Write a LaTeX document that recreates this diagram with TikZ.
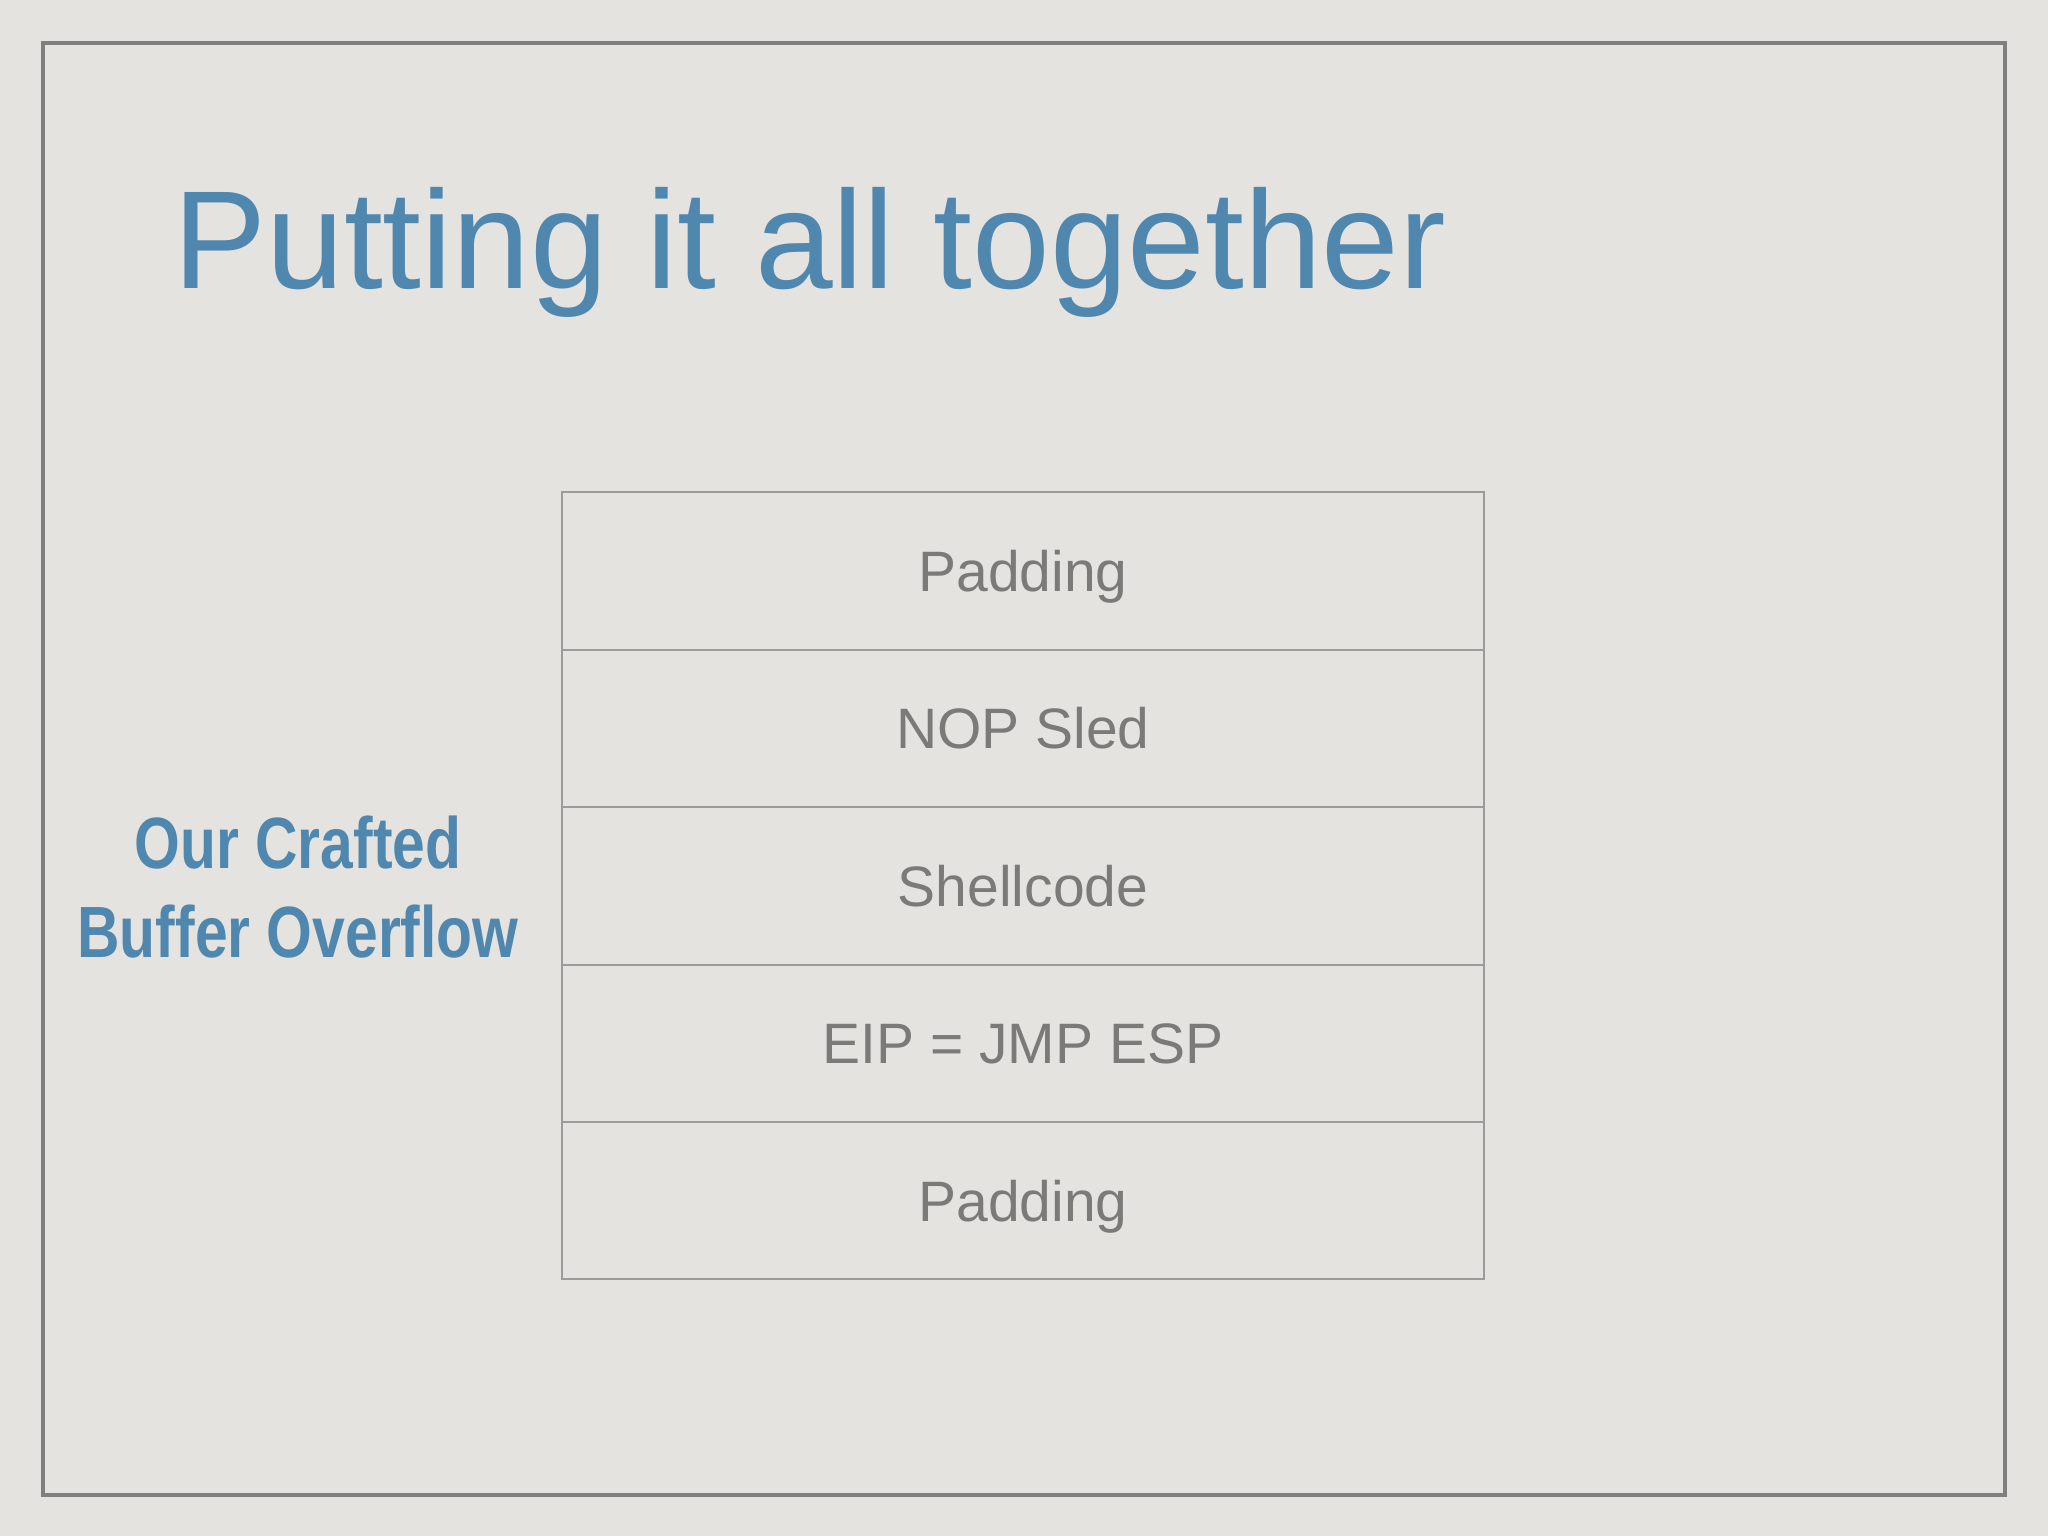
\documentclass[tikz,border=0pt]{standalone}
\usepackage{fontspec}
\setmainfont{Liberation Sans}
\usetikzlibrary{positioning}
\definecolor{bgc}{HTML}{E4E3DF}
\definecolor{framec}{HTML}{7F7F7D}
\definecolor{cellline}{HTML}{9B9B99}
\definecolor{titleblue}{HTML}{4F87AE}
\definecolor{celltext}{HTML}{7A7A78}
\tikzset{
  cellbox/.style={draw=cellline, line width=1pt, minimum width=461pt, minimum height=78.7pt,
    inner sep=0pt, outer sep=0pt, text=celltext, font=\fontsize{28.5}{34}\selectfont,
    text height=20.4pt, text depth=0pt},
  sidelabel/.style={anchor=base, inner sep=0pt, text=titleblue,
    font=\fontsize{36.3}{44}\selectfont\bfseries},
  titletext/.style={anchor=base west, inner sep=0pt, text=titleblue,
    font=\fontsize{69.8}{84}\selectfont}
}
\begin{document}
\begin{tikzpicture}[x=0.5pt,y=-0.5pt]
\useasboundingbox (0,0) rectangle (2048,1536);
\fill[bgc] (0,0) rectangle (2048,1536);
\draw[framec, line width=2pt] (43,43) rectangle (2005,1495);
\node[titletext] (title) at (173,288) {Putting it all together};
\node[sidelabel] (lab1) at (298,868) {\scalebox{0.81}[1]{Our Crafted}};
\node[sidelabel] (lab2) at (298,957) {\scalebox{0.81}[1]{Buffer Overflow}};
\node[cellbox] (c1) at (1023,571) {Padding};
\node[cellbox, below=0pt of c1] (c2) {NOP Sled};
\node[cellbox, below=0pt of c2] (c3) {Shellcode};
\node[cellbox, below=0pt of c3] (c4) {EIP = JMP ESP};
\node[cellbox, below=0pt of c4] (c5) {Padding};
\end{tikzpicture}
\end{document}
